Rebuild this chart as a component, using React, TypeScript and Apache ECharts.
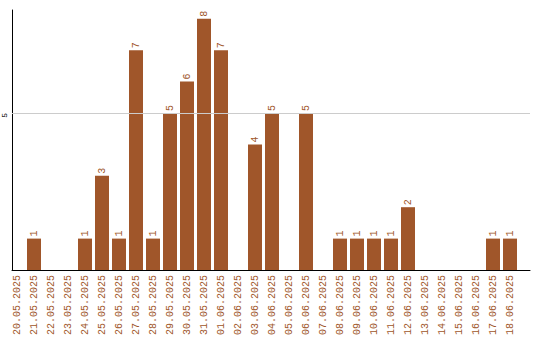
import React, { useEffect, useRef } from "react";
import * as echarts from "echarts";

const categories: string[] = [
  "20.05.2025", "21.05.2025", "22.05.2025", "23.05.2025", "24.05.2025",
  "25.05.2025", "26.05.2025", "27.05.2025", "28.05.2025", "29.05.2025",
  "30.05.2025", "31.05.2025", "01.06.2025", "02.06.2025", "03.06.2025",
  "04.06.2025", "05.06.2025", "06.06.2025", "07.06.2025", "08.06.2025",
  "09.06.2025", "10.06.2025", "11.06.2025", "12.06.2025", "13.06.2025",
  "14.06.2025", "15.06.2025", "16.06.2025", "17.06.2025", "18.06.2025",
];

const values: number[] = [
  0, 1, 0, 0, 1, 3, 1, 7, 1, 5,
  6, 8, 7, 0, 4, 5, 0, 5, 0, 1,
  1, 1, 1, 2, 0, 0, 0, 0, 1, 1,
];

const yMax = 8.28;
const gridValue = 5;

const BROWN = "#A0562A";
const MONO = "'Liberation Mono', 'DejaVu Sans Mono', monospace";

export default function App() {
  const ref = useRef<HTMLDivElement>(null);

  useEffect(() => {
    if (!ref.current) return;
    const chart = echarts.init(ref.current, undefined, { renderer: "svg" });
    chart.setOption({
      animation: false,
      backgroundColor: "#ffffff",
      grid: [
        { left: 10, right: 10, top: 10, bottom: 70, containLabel: false },
        { left: 8.5, right: 21.5, top: 10, bottom: 70, containLabel: false },
      ],
      xAxis: [
        {
          type: "value",
          gridIndex: 0,
          min: 0,
          max: 1,
          axisLine: { show: true, onZero: false, lineStyle: { color: "#000", width: 1 } },
          axisTick: { show: false },
          axisLabel: { show: false },
          splitLine: { show: false },
        },
        {
          type: "category",
          gridIndex: 1,
          data: categories,
          axisLine: { show: false },
          axisTick: { show: false },
          axisLabel: {
            interval: 0,
            rotate: 90,
            margin: 5,
            fontFamily: MONO,
            fontSize: 10,
            color: BROWN,
          },
        },
      ],
      yAxis: [
        {
          type: "value",
          gridIndex: 0,
          min: 0,
          max: yMax,
          interval: 5,
          axisLine: { show: true, lineStyle: { color: "#000", width: 1 } },
          axisTick: { show: false },
          splitLine: { show: false },
          axisLabel: {
            rotate: 90,
            margin: 4,
            align: "right",
            fontFamily: MONO,
            fontSize: 8,
            color: "#000",
            showMinLabel: false,
            showMaxLabel: false,
            formatter: (v: number) => (v === gridValue ? String(v) : ""),
          },
        },
        {
          type: "value",
          gridIndex: 1,
          min: 0,
          max: yMax,
          show: false,
          splitLine: { show: false },
        },
      ],
      series: [
        {
          type: "line",
          xAxisIndex: 0,
          yAxisIndex: 0,
          data: [],
          silent: true,
          markLine: {
            silent: true,
            symbol: "none",
            label: { show: false },
            lineStyle: { color: "#cccccc", type: "solid", width: 1 },
            data: [{ yAxis: gridValue }],
          },
        },
        {
          type: "bar",
          xAxisIndex: 1,
          yAxisIndex: 1,
          data: values.map((v) => (v === 0 ? null : v)),
          barWidth: 14,
          itemStyle: { color: BROWN },
          label: {
            show: true,
            position: "top",
            rotate: 90,
            align: "left",
            verticalAlign: "middle",
            distance: 2,
            fontFamily: MONO,
            fontSize: 10,
            color: BROWN,
          },
        },
      ],
    });
    return () => chart.dispose();
  }, []);

  return <div ref={ref} style={{ width: 540, height: 340, position: "absolute", left: 0, top: 0 }} />;
}
